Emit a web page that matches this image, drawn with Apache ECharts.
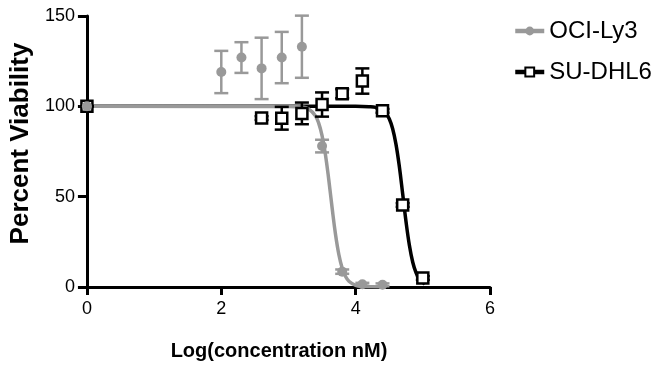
<!DOCTYPE html>
<html>
<head>
    <title>Percent Viability</title>
    <meta charset="utf-8">
    <script type="text/javascript" src="https://cdn.jsdelivr.net/npm/echarts@6/dist/echarts.min.js"></script>
</head>
<body style="margin:0">
    <div id="main" style="width: 657px; height:366px;"></div>
    <script>
        // measured points (log concentration, % viability, +/- error)
        const ociX = [0, 2.0, 2.3, 2.6, 2.9, 3.2, 3.5, 3.8, 4.1, 4.4];
        const ociY = [100, 119, 127, 121, 127, 133, 78, 8.5, 1.5, 1.2];
        const ociErr = [0, 11.7, 8.5, 17, 14.2, 17.2, 3.5, 1.2, 0.8, 0.8];

        const suX = [0, 2.6, 2.9, 3.2, 3.5, 3.8, 4.1, 4.4, 4.7, 5.0];
        const suY = [100, 93.5, 93.4, 96.1, 101, 107, 114, 97.5, 45.4, 5];
        const suErr = [0, 1, 6.3, 6, 6.7, 2.5, 7, 1, 1, 1];

        // fitted curves
        const ociFitX = [0, 3.0, 3.2, 3.3, 3.4, 3.45, 3.5, 3.55, 3.6, 3.65, 3.7, 3.75, 3.8, 3.85, 3.9, 4.0, 4.1, 4.25, 4.43];
        const ociFitY = [100, 99.9, 99.6, 98.5, 94.8, 90.7, 83.8, 73.4, 59.4, 43.7, 29.2, 18, 10.4, 5.8, 3.2, 0.9, 0.3, 0.1, 0];
        const suFitX = [0, 4.0, 4.2, 4.3, 4.4, 4.45, 4.5, 4.55, 4.6, 4.65, 4.7, 4.75, 4.8, 4.85, 4.9, 4.95, 5.03];
        const suFitY = [100, 100, 99.8, 99.4, 97.9, 96.2, 93.1, 87.7, 79.1, 66.8, 51.6, 36.1, 23.1, 13.7, 7.8, 4.3, 1.6];

        const xTicks = [0, 2, 4, 6];
        const yTicks = [0, 50, 100, 150];

        const gray = '#999999';
        const font = 'Liberation Sans';

        const zip2 = (a, b) => a.map((v, i) => [v, b[i]]);
        const errData = (xs, ys, es) => xs.map((v, i) => [v, ys[i] - es[i], ys[i] + es[i]]);

        function errorBars(color) {
            return function (params, api) {
                const x = api.value(0);
                const lo = api.coord([x, api.value(1)]);
                const hi = api.coord([x, api.value(2)]);
                const w = 7;
                const st = { stroke: color, lineWidth: 2.5 };
                return {
                    type: 'group',
                    children: [
                        { type: 'line', shape: { x1: lo[0], y1: lo[1], x2: hi[0], y2: hi[1] }, style: st },
                        { type: 'line', shape: { x1: lo[0] - w, y1: lo[1], x2: lo[0] + w, y2: lo[1] }, style: st },
                        { type: 'line', shape: { x1: hi[0] - w, y1: hi[1], x2: hi[0] + w, y2: hi[1] }, style: st }
                    ]
                };
            };
        }

        const chart = echarts.init(document.getElementById('main'));
        chart.setOption({
            animation: false,
            textStyle: { fontFamily: font },
            grid: { left: 86, right: 167, top: 16, bottom: 79 },
            legend: {
                orient: 'vertical', left: 508, top: 13,
                itemWidth: 29, itemHeight: 11, itemGap: 15,
                data: ['OCI-Ly3', 'SU-DHL6'],
                lineStyle: { width: 4.5 },
                textStyle: { fontFamily: font, fontSize: 24, color: '#000', lineHeight: 26 }
            },
            xAxis: {
                type: 'value', min: xTicks[0], max: xTicks[xTicks.length - 1], interval: 2,
                name: 'Log(concentration nM)', nameLocation: 'middle', nameGap: 54,
                nameTextStyle: { fontFamily: font, fontSize: 20, fontWeight: 'bold', color: '#000', padding: [0, 19, 0, 0] },
                axisLine: { lineStyle: { color: '#000', width: 3 } },
                axisTick: { length: 8, lineStyle: { width: 3, color: '#000' } },
                axisLabel: { fontFamily: font, fontSize: 18, color: '#000', margin: 13 },
                splitLine: { show: false }
            },
            yAxis: {
                type: 'value', min: yTicks[0], max: yTicks[yTicks.length - 1], interval: 50,
                name: 'Percent Viability', nameLocation: 'middle', nameGap: 45,
                nameTextStyle: { fontFamily: font, fontSize: 26, fontWeight: 'bold', color: '#000', padding: [0, 0, 0, 16] },
                axisLine: { show: true, lineStyle: { color: '#000', width: 3 } },
                axisTick: { show: true, length: 9, lineStyle: { width: 3, color: '#000' } },
                axisLabel: { fontFamily: font, fontSize: 18, color: '#000', margin: 12 },
                splitLine: { show: false }
            },
            series: [
                {
                    name: 'SU-DHL6', type: 'line', data: zip2(suFitX, suFitY),
                    smooth: 0.4, showSymbol: false,
                    symbol: 'rect', symbolSize: 10,
                    itemStyle: { color: '#fff', borderColor: '#000', borderWidth: 3 },
                    lineStyle: { color: '#000', width: 3.5 }, z: 2
                },
                {
                    name: 'OCI-Ly3', type: 'line', data: zip2(ociFitX, ociFitY),
                    smooth: 0.4, showSymbol: false,
                    symbol: 'circle', symbolSize: 10,
                    itemStyle: { color: gray },
                    lineStyle: { color: gray, width: 3.5 }, z: 3
                },
                {
                    type: 'custom', data: errData(ociX, ociY, ociErr),
                    renderItem: errorBars(gray), encode: { x: 0, y: [1, 2] }, z: 4
                },
                {
                    type: 'custom', data: errData(suX, suY, suErr),
                    renderItem: errorBars('#000'), encode: { x: 0, y: [1, 2] }, z: 5
                },
                {
                    type: 'scatter', data: zip2(suX, suY), symbol: 'rect', symbolSize: 11,
                    itemStyle: { color: '#fff', borderColor: '#000', borderWidth: 2.5, opacity: 1 }, z: 6
                },
                {
                    type: 'scatter', data: zip2(ociX, ociY), symbol: 'circle', symbolSize: 10,
                    itemStyle: { color: gray, opacity: 1 }, z: 7
                }
            ]
        });
    </script>
</body>
</html>
